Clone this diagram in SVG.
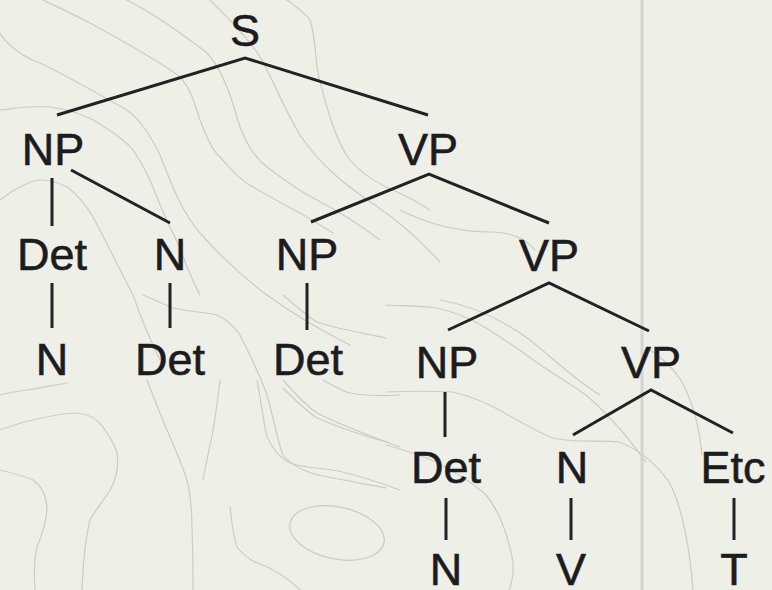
<svg xmlns="http://www.w3.org/2000/svg" width="772" height="590" viewBox="0 0 772 590">
  <style>
    .bg { fill: #eef0e8; }
    .contour { fill: none; stroke: #cbccc4; stroke-width: 1.2; stroke-linecap: round; }
    .divider { stroke: #d4d5cf; stroke-width: 3; }
    .edge { fill: none; stroke: #222224; stroke-width: 3; stroke-linecap: butt; stroke-linejoin: miter; }
    .label { font-family: "Liberation Sans", Arial, Helvetica, sans-serif; font-size: 45px; fill: #1c1c1e; stroke: #1c1c1e; stroke-width: 0.6; text-anchor: middle; }
  </style>

  <!-- paper background with faint topographic contours -->
  <rect class="bg" x="0" y="0" width="772" height="590"/>
  <g id="contours">
    <path class="contour" d="M0,33 C5,42 20,56 40,63 C60,72 100,95 127,110 C142,122 150,135 160,155 C170,180 180,210 200,233 C215,250 240,275 267,295 C290,312 320,330 350,345"/>
    <path class="contour" d="M43,0 C60,8 75,15 90,23 C110,34 130,45 143,53 C160,63 172,70 180,77 C192,90 196,108 200,120 C207,138 212,150 220,157 C232,170 240,180 253,187 C270,197 285,205 300,213 C315,222 325,228 333,233"/>
    <path class="contour" d="M127,0 C150,12 165,22 180,33 C192,42 200,47 207,53 C216,62 222,75 227,87 C233,102 236,115 240,127 C247,145 255,158 267,167 C285,180 300,192 317,200 C340,212 360,225 380,240"/>
    <path class="contour" d="M0,110 C20,108 35,105 50,107 C65,109 80,113 93,120 C110,130 125,140 133,150 C143,165 148,175 153,187 C160,205 166,220 173,233 C180,248 184,258 187,267 C192,278 196,288 200,295"/>
    <path class="contour" d="M287,0 C298,8 306,14 310,20 C315,35 315,50 317,67 C320,85 325,100 330,117 C336,135 342,150 350,160 C360,172 372,180 386,187 C400,193 415,200 430,210"/>
    <path class="contour" d="M0,200 C8,194 14,190 20,187 C28,183 34,180 40,180 C50,180 58,182 67,187 C78,195 86,205 93,217 C100,230 105,240 110,250 C118,265 125,280 133,295 C140,315 150,340 160,360"/>
    <path class="contour" d="M210,0 C230,20 250,40 262,60 C275,85 285,110 300,135 C320,165 345,185 375,205 C400,222 420,240 440,262"/>
    <path class="contour" d="M143,295 C155,300 165,305 173,308 C190,312 205,312 217,315 C228,320 235,328 240,335 C250,355 260,375 267,395 C273,415 277,440 283,455 C295,470 315,475 333,478 C350,481 370,485 386,488"/>
    <path class="contour" d="M283,295 C295,305 305,315 317,322 C340,330 365,333 386,338"/>
    <path class="contour" d="M283,388 C295,400 305,410 317,418 C340,428 365,436 386,442"/>
    <path class="contour" d="M0,395 C12,392 20,391 27,390 C40,388 55,385 67,383"/>
    <path class="contour" d="M0,430 C12,426 22,422 33,420 C50,416 62,413 77,413 C90,414 98,420 103,427 C110,437 115,445 117,453 C119,468 116,480 110,490 C103,502 95,510 90,520 C85,540 83,565 82,590"/>
    <path class="contour" d="M0,470 C12,473 24,476 33,480 C42,486 46,496 47,507 C47,520 42,535 37,547 C34,560 34,575 35,590"/>
    <path class="contour" d="M147,380 C154,398 160,414 167,430 C175,448 182,465 187,480 C191,497 192,513 192,530 C193,550 193,570 193,590"/>
    <path class="contour" d="M220,380 C218,398 216,414 213,430 C210,447 206,463 203,480"/>
    <path class="contour" d="M257,380 C261,400 263,420 267,437 C273,450 280,458 290,463 C305,468 320,468 333,470 C355,474 378,482 400,490"/>
    <path class="contour" d="M283,380 C295,393 305,405 317,413 C340,425 370,436 400,447"/>
    <path class="contour" d="M323,380 C333,386 342,391 350,393 C367,396 385,396 400,395"/>
    <path class="contour" d="M230,507 C232,522 233,537 237,547 C245,558 255,563 267,567 C280,573 292,582 300,590"/>
    <ellipse class="contour" cx="337" cy="533" rx="48" ry="26" transform="rotate(12 337 533)"/>
    <path class="contour" d="M386,305 C405,306 420,306 436,308 C455,312 470,318 486,328 C505,340 520,350 536,362 C555,375 572,385 586,395 C600,407 610,418 619,428 C630,440 638,452 646,462"/>
    <path class="contour" d="M386,392 C410,391 432,391 453,392 C470,396 487,403 503,412 C520,422 537,432 553,438 C575,443 600,440 619,442 C640,450 657,465 669,482 C682,505 690,550 693,590"/>
    <path class="contour" d="M386,445 C405,450 420,455 436,462 C455,472 472,482 486,495 C500,512 508,535 513,562 C514,575 512,583 509,590"/>
    <path class="contour" d="M400,210 C430,225 460,232 490,232 C510,232 525,238 535,250"/>
    <path class="contour" d="M440,300 C470,305 500,318 530,340 C555,360 575,380 600,395"/>
    <path class="contour" d="M650,350 C665,360 678,372 686,390 C695,410 700,430 702,455"/>
  </g>
  <line class="divider" x1="642" y1="0" x2="642" y2="590"/>

  <!-- tree branches -->
  <g id="connectors">
    <polyline class="edge" points="57,115 245,58 428,115"/>
    <line class="edge" x1="52" y1="178" x2="52" y2="226"/>
    <line class="edge" x1="71" y1="170" x2="170" y2="223"/>
    <polyline class="edge" points="311,222 429,174 549,223"/>
    <line class="edge" x1="52" y1="283" x2="52" y2="328"/>
    <line class="edge" x1="170" y1="283" x2="170" y2="328"/>
    <line class="edge" x1="307" y1="283" x2="307" y2="330"/>
    <polyline class="edge" points="448,330 549,283 649,331"/>
    <line class="edge" x1="445" y1="392" x2="445" y2="437"/>
    <polyline class="edge" points="573,435 651,390 733,433"/>
    <line class="edge" x1="446" y1="498" x2="446" y2="540"/>
    <line class="edge" x1="571" y1="498" x2="571" y2="540"/>
    <line class="edge" x1="734" y1="498" x2="734" y2="540"/>
  </g>

  <!-- tree nodes -->
  <g id="n-s"><text class="label" x="245" y="46">S</text></g>
  <g id="n-np1"><text class="label" x="53" y="165">NP</text></g>
  <g id="n-vp1"><text class="label" x="428" y="165">VP</text></g>
  <g id="n-det1"><text class="label" x="52" y="270">Det</text></g>
  <g id="n-n1"><text class="label" x="170" y="270">N</text></g>
  <g id="n-np2"><text class="label" x="307" y="270">NP</text></g>
  <g id="n-vp2"><text class="label" x="549" y="271">VP</text></g>
  <g id="n-n2"><text class="label" x="52" y="375">N</text></g>
  <g id="n-det2"><text class="label" x="170" y="375">Det</text></g>
  <g id="n-det3"><text class="label" x="308" y="375">Det</text></g>
  <g id="n-np3"><text class="label" x="447" y="378">NP</text></g>
  <g id="n-vp3"><text class="label" x="651" y="378">VP</text></g>
  <g id="n-det4"><text class="label" x="446" y="483">Det</text></g>
  <g id="n-n3"><text class="label" x="572" y="483">N</text></g>
  <g id="n-etc"><text class="label" x="733" y="483">Etc</text></g>
  <g id="n-n4"><text class="label" x="446" y="585">N</text></g>
  <g id="n-v"><text class="label" x="571" y="585">V</text></g>
  <g id="n-t"><text class="label" x="734" y="585">T</text></g>
</svg>
